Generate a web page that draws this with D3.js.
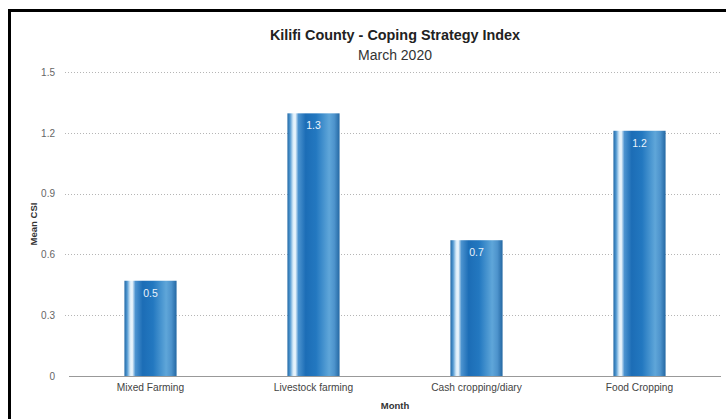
<!DOCTYPE html>
<html>
<head>
<meta charset="utf-8">
<script src="https://cdn.jsdelivr.net/npm/d3@7"></script>
<style>
  html, body { margin: 0; padding: 0; background: #fff; }
  svg { display: block; font-family: "Liberation Sans", Arial, Helvetica, sans-serif; }
</style>
</head>
<body>
<svg id="chart" width="726" height="419"></svg>
<script>
// Coping Strategy Index by livelihood zone
const categories = ["Mixed Farming", "Livestock farming", "Cash cropping/diary", "Food Cropping"];
const meanCSI = [0.47, 1.296, 0.67, 1.21];
const yTicks = [0, 0.3, 0.6, 0.9, 1.2, 1.5];

const title = "Kilifi County - Coping Strategy Index";
const subtitle = "March 2020";
const xTitle = "Month";
const yTitle = "Mean CSI";

const W = 726, H = 419;
const margin = { left: 69, right: 5, top: 72, bottom: 43 };

const svg = d3.select("#chart");

// frame around the chart
svg.append("path")
  .attr("d", `M9.5,${H} V10.5 H${W}`)
  .attr("fill", "none")
  .attr("stroke", "#000")
  .attr("stroke-width", 3);

const x = d3.scaleBand()
  .domain(categories)
  .range([margin.left, W - margin.right])
  .paddingInner(0.68)
  .paddingOuter(0.34);

const y = d3.scaleLinear()
  .domain([0, 1.5])
  .range([H - margin.bottom, margin.top]);

// cylinder-style shading for the bars
const defs = svg.append("defs");
const grad = defs.append("linearGradient")
  .attr("id", "barGrad")
  .attr("x1", "0%").attr("x2", "100%")
  .attr("y1", "0%").attr("y2", "0%");
[
  [0, "#2369a6"],
  [0.05, "#4f97d0"],
  [0.11, "#d9ecf9"],
  [0.15, "#eef7fd"],
  [0.21, "#4c93cf"],
  [0.35, "#1c6db6"],
  [0.55, "#2378c0"],
  [0.8, "#5fa6d9"],
  [0.9, "#4d93cc"],
  [1, "#2468a3"]
].forEach(([o, c]) => grad.append("stop").attr("offset", o).attr("stop-color", c));

// horizontal dotted grid lines
svg.append("g")
  .selectAll("line")
  .data(yTicks.filter(t => t > 0))
  .join("line")
  .attr("x1", margin.left - 4)
  .attr("x2", W - margin.right)
  .attr("y1", d => Math.round(y(d)) + 0.5)
  .attr("y2", d => Math.round(y(d)) + 0.5)
  .attr("stroke", "#b5b5b5")
  .attr("stroke-width", 1)
  .attr("stroke-dasharray", "1,2");

// y axis labels
const yAxis = d3.axisLeft(y).tickValues(yTicks).tickSize(0).tickPadding(0)
  .tickFormat(d => d === 0 ? "0" : d3.format(".1f")(d));
svg.append("g")
  .attr("transform", `translate(${margin.left - 14},0)`)
  .call(yAxis)
  .call(g => g.select(".domain").remove())
  .call(g => g.selectAll("text")
    .attr("fill", "#666")
    .attr("font-size", "10px")
    .attr("font-family", "Liberation Sans, Arial, sans-serif"));

// bars
svg.append("g")
  .selectAll("rect")
  .data(categories)
  .join("rect")
  .attr("x", d => x(d))
  .attr("width", x.bandwidth())
  .attr("y", (d, i) => y(meanCSI[i]))
  .attr("height", (d, i) => y(0) - y(meanCSI[i]))
  .attr("fill", "url(#barGrad)");

// value labels inside the bar tops
svg.append("g")
  .selectAll("text")
  .data(categories)
  .join("text")
  .attr("x", d => x(d) + x.bandwidth() / 2)
  .attr("y", (d, i) => y(meanCSI[i]) + 16)
  .attr("text-anchor", "middle")
  .attr("fill", "#eaf3fb")
  .attr("font-size", "10.5px")
  .text((d, i) => d3.format(".1f")(meanCSI[i]));

// x axis baseline and category labels
const xAxis = d3.axisBottom(x).tickSize(0).tickPadding(7);
svg.append("g")
  .attr("transform", `translate(0,${Math.round(y(0)) + 0.5})`)
  .call(xAxis)
  .call(g => g.select(".domain").attr("stroke", "#999").attr("d", `M${margin.left},0H${W - margin.right}`))
  .call(g => g.selectAll("text")
    .attr("fill", "#444")
    .attr("font-size", "10.2px")
    .attr("font-family", "Liberation Sans, Arial, sans-serif"));

const cx = (margin.left + W - margin.right) / 2;

// titles
svg.append("text")
  .attr("x", cx).attr("y", 40)
  .attr("text-anchor", "middle")
  .attr("font-size", "14.4px")
  .attr("font-weight", "bold")
  .attr("fill", "#222")
  .text(title);

svg.append("text")
  .attr("x", cx).attr("y", 60)
  .attr("text-anchor", "middle")
  .attr("font-size", "14px")
  .attr("fill", "#333")
  .text(subtitle);

svg.append("text")
  .attr("x", cx).attr("y", 409)
  .attr("text-anchor", "middle")
  .attr("font-size", "9.5px")
  .attr("font-weight", "bold")
  .attr("fill", "#333")
  .text(xTitle);

svg.append("text")
  .attr("transform", `translate(37,${(margin.top + H - margin.bottom) / 2}) rotate(-90)`)
  .attr("text-anchor", "middle")
  .attr("font-size", "9.5px")
  .attr("font-weight", "bold")
  .attr("fill", "#333")
  .text(yTitle);
</script>
</body>
</html>
